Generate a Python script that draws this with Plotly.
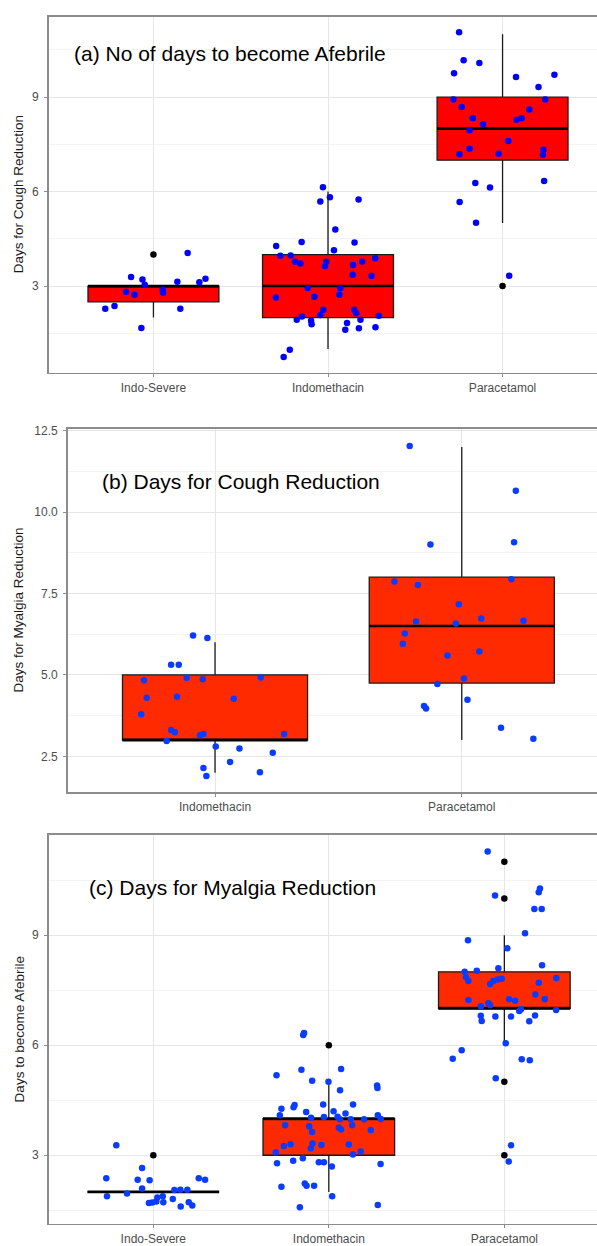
import plotly.graph_objects as go

W, H = 597, 1246
FONT = "Liberation Sans, Arial, Helvetica, sans-serif"

# ---------------- Panel (a): No of days to become Afebrile ----------------
A_cats = ["Indo-Severe", "Indomethacin", "Paracetamol"]
A_q1 = [2.5, 2, 7]
A_med = [3, 3, 8]
A_q3 = [3, 4, 9]
A_lo = [2, 1, 5]
A_hi = [3, 6, 11]
A_out_sev = [4]
A_out_ind = []
A_out_par = [3]
A_sev_dx = [-0.276, -0.223, -0.157, -0.128, -0.109, -0.063, -0.050, -0.069, 0.053, 0.055, 0.137, 0.154, 0.196, 0.263, 0.298]
A_sev_y = [2.28, 2.37, 2.82, 3.29, 2.72, 3.21, 3.04, 1.67, 2.89, 2.79, 3.14, 2.28, 4.05, 3.12, 3.23]
A_ind_dx = [-0.297, -0.273, -0.214, -0.189, -0.158, -0.299, -0.179, -0.219, -0.254, -0.029, -0.044, 0.011, 0.175, 0.042,
            -0.151, 0.152, 0.034, -0.010, -0.017, 0.143, 0.196, 0.270, 0.141, 0.249, -0.117, 0.070, 0.065, -0.078,
            -0.027, 0.150, 0.162, -0.044, -0.149, 0.186, 0.291, -0.097, -0.094, 0.109, 0.099, 0.177, 0.272]
A_ind_y = [4.27, 3.96, 3.97, 3.77, 3.72, 2.64, 1.93, 0.98, 0.75, 6.14, 5.69, 5.82, 5.75, 4.80,
           4.40, 4.38, 4.14, 3.77, 3.63, 3.67, 3.78, 3.88, 3.36, 3.33, 2.94, 2.93, 2.72, 2.66,
           2.25, 2.25, 2.14, 2.08, 2.03, 1.93, 2.06, 1.90, 1.79, 1.83, 1.61, 1.66, 1.69]
A_par_dx = [-0.249, -0.223, -0.133, -0.278, 0.077, 0.297, 0.206, -0.282, 0.244, -0.234, 0.153, -0.171, -0.112, 0.080,
            0.109, -0.189, 0.033, -0.189, -0.247, -0.023, 0.234, 0.231, 0.238, -0.156, -0.072, -0.246, -0.152, 0.038]
A_par_y = [11.06, 10.17, 10.09, 9.76, 9.64, 9.71, 9.32, 8.93, 8.93, 8.69, 8.61, 8.33, 8.14, 8.28,
           8.33, 7.95, 7.61, 7.36, 7.19, 7.20, 7.33, 7.17, 6.34, 6.27, 6.13, 5.67, 5.01, 3.33]

# ---------------- Panel (b): Days for Cough Reduction ----------------
B_cats = ["Indomethacin", "Paracetamol"]
B_q1 = [3, 4.75]
B_med = [3, 6.5]
B_q3 = [5, 8]
B_lo = [2, 3]
B_hi = [6, 12]
B_ind_dx = [-0.089, -0.031, -0.178, -0.147, -0.288, -0.115, -0.050, 0.185, -0.277, -0.154, 0.076, -0.299, -0.178,
            -0.163, -0.061, -0.047, 0.280, -0.196, 0.003, 0.099, 0.234, 0.061, -0.047, -0.035, 0.182]
B_ind_y = [6.21, 6.13, 5.31, 5.31, 4.84, 4.91, 4.87, 4.92, 4.30, 4.33, 4.27, 3.79, 3.31,
           3.24, 3.15, 3.19, 3.19, 2.97, 2.80, 2.74, 2.61, 2.33, 2.14, 1.90, 2.01]
B_par_dx = [-0.211, 0.219, -0.127, 0.212, -0.273, -0.178, 0.201, -0.012, -0.185, -0.024, 0.079, 0.250, -0.231,
            -0.239, -0.058, 0.071, 0.009, -0.099, 0.023, -0.153, -0.145, 0.159, 0.290]
B_par_y = [12.03, 10.65, 9.00, 9.07, 7.87, 7.76, 7.94, 7.17, 6.64, 6.58, 6.73, 6.66, 6.27,
           5.96, 5.60, 5.72, 4.89, 4.72, 4.24, 4.05, 3.97, 3.38, 3.04]

# ---------------- Panel (c): Days for Myalgia Reduction ----------------
C_cats = ["Indo-Severe", "Indomethacin", "Paracetamol"]
C_q1 = [2, 3, 7]
C_med = [2, 4, 7]
C_q3 = [2, 4, 8]
C_lo = [2, 2, 6]
C_hi = [2, 5, 9]
C_out_sev = [3]
C_out_ind = [6]
C_out_par = [11, 10, 5, 3]
C_sev_dx = [-0.211, -0.064, -0.268, -0.089, -0.021, 0.259, 0.295, -0.264, -0.150, -0.064, 0.023, 0.054, -0.006,
            -0.025, 0.017, 0.057, 0.111, 0.120, 0.154, 0.194, 0.202, 0.222, 0.156]
C_sev_y = [3.27, 2.65, 2.37, 2.33, 2.32, 2.37, 2.33, 1.88, 1.96, 2.09, 1.85, 1.88, 1.71,
           1.70, 1.74, 1.72, 1.81, 2.05, 2.06, 2.06, 1.72, 1.63, 1.60]
C_ind_dx = [-0.298, -0.156, -0.270, -0.195, -0.201, -0.279, -0.249, -0.218, -0.256, -0.302, -0.295, -0.203, -0.270,
            -0.165, -0.141, -0.146, 0.070, -0.095, -0.002, 0.064, 0.275, 0.277, -0.032, 0.138, -0.129, 0.027, 0.095,
            -0.101, -0.028, 0.050, 0.063, 0.125, 0.201, 0.279, 0.296, 0.133, -0.112, 0.057, 0.070, -0.095, 0.239,
            -0.093, -0.042, 0.114, -0.103, 0.137, 0.182, -0.148, -0.057, -0.028, 0.295, 0.017, -0.137, -0.127,
            -0.084, 0.019, 0.279]
C_ind_y = [5.18, 5.33, 4.27, 4.37, 4.31, 4.09, 3.82, 3.30, 3.25, 3.08, 2.78, 2.85, 2.14,
           1.58, 6.33, 6.28, 5.35, 5.03, 5.00, 4.77, 4.90, 4.83, 4.38, 4.38, 4.18, 4.20, 4.14,
           4.02, 4.04, 4.05, 3.98, 3.98, 3.98, 4.09, 3.99, 3.82, 3.79, 3.75, 3.70, 3.63, 3.69,
           3.32, 3.28, 3.29, 3.19, 3.02, 3.10, 2.92, 2.81, 2.81, 2.76, 2.69, 2.23, 2.17,
           2.17, 1.88, 1.64]
C_par_dx = [-0.095, -0.053, 0.203, 0.196, 0.171, 0.213, 0.118, -0.207, 0.017, 0.215, -0.034, -0.157, -0.226, -0.218,
            -0.205, -0.081, -0.063, -0.038, -0.015, 0.196, 0.296, -0.205, 0.027, 0.061, 0.177, 0.230, -0.134, -0.091,
            -0.081, 0.095, 0.085, 0.295, -0.134, -0.051, 0.038, 0.175, -0.129, 0.142, 0.008, -0.294, -0.243, 0.099,
            0.145, -0.049, 0.038, 0.025]
C_par_y = [11.28, 10.08, 10.27, 10.17, 9.71, 9.71, 9.05, 8.86, 8.64, 8.18, 8.10, 8.03, 8.00, 7.85,
           7.75, 7.67, 7.75, 7.79, 7.81, 7.70, 7.83, 7.23, 7.25, 7.21, 7.38, 7.25, 7.06, 7.14,
           7.09, 6.98, 6.93, 6.96, 6.80, 6.78, 6.78, 6.81, 6.66, 6.65, 6.05, 5.63, 5.86, 5.62,
           5.59, 5.10, 3.27, 2.83]

TITLES = ["(a) No of days to become Afebrile", "(b) Days for Cough Reduction", "(c) Days for Myalgia Reduction"]
YTITLES = ["Days for Cough Reduction", "Days for Myalgia Reduction", "Days to become Afebrile"]

BOX_W = 0.75
GRID = "#e6e6e6"
MINOR = "#f3f3f3"
AXC = "#8c8c8c"
TICKC = "#4d4d4d"

fig = go.Figure()


def add_panel(ax, q1, med, q3, lo, hi, fill, groups, outliers, pcolor):
    xa, ya = "x" + ax, "y" + ax
    for i in range(len(q1)):
        fig.add_trace(go.Box(x=[i], q1=[q1[i]], median=[med[i]], q3=[q3[i]],
                             lowerfence=[lo[i]], upperfence=[hi[i]], width=BOX_W,
                             fillcolor=fill, line=dict(color="#1a1a1a", width=1.3),
                             whiskerwidth=0, boxpoints=False, xaxis=xa, yaxis=ya,
                             showlegend=False, hoverinfo="skip"))
        fig.add_trace(go.Scatter(x=[i - BOX_W / 2, i + BOX_W / 2], y=[med[i], med[i]], mode="lines",
                                 line=dict(color="#000000", width=2.6), xaxis=xa, yaxis=ya,
                                 showlegend=False, hoverinfo="skip"))
    for i, outs in enumerate(outliers):
        if outs:
            fig.add_trace(go.Scatter(x=[i] * len(outs), y=outs, mode="markers",
                                     marker=dict(color="#000000", size=6.5), xaxis=xa, yaxis=ya,
                                     showlegend=False, hoverinfo="skip"))
    for i, (dx, yy) in enumerate(groups):
        fig.add_trace(go.Scatter(x=[i + d for d in dx], y=yy, mode="markers",
                                 marker=dict(color=pcolor, size=6.5), xaxis=xa, yaxis=ya,
                                 showlegend=False, hoverinfo="skip"))


add_panel("", A_q1, A_med, A_q3, A_lo, A_hi, "#ff0000",
          [(A_sev_dx, A_sev_y), (A_ind_dx, A_ind_y), (A_par_dx, A_par_y)],
          [A_out_sev, A_out_ind, A_out_par], "#0000ff")
add_panel("2", B_q1, B_med, B_q3, B_lo, B_hi, "#ff2a00",
          [(B_ind_dx, B_ind_y), (B_par_dx, B_par_y)], [[], []], "#0a3cff")
add_panel("3", C_q1, C_med, C_q3, C_lo, C_hi, "#ff2a00",
          [(C_sev_dx, C_sev_y), (C_ind_dx, C_ind_y), (C_par_dx, C_par_y)],
          [C_out_sev, C_out_ind, C_out_par], "#0a3cff")


def px_x(v):
    return v / W


def px_y(v):
    return 1 - v / H


def xaxis(dom, rng, cats, anchor):
    return dict(domain=dom, range=rng, tickmode="array", tickvals=list(range(len(cats))), ticktext=cats,
                showgrid=True, gridcolor=GRID, gridwidth=1, zeroline=False,
                showline=True, linecolor=AXC, linewidth=1.6, mirror=True,
                ticks="outside", ticklen=3, tickcolor=AXC, tickwidth=1,
                tickfont=dict(family=FONT, size=12, color=TICKC), anchor=anchor, fixedrange=True)


def yaxis(dom, rng, dtick, fmt, anchor):
    return dict(domain=dom, range=rng, tick0=0, dtick=dtick, tickformat=fmt,
                showgrid=True, gridcolor=GRID, gridwidth=1, zeroline=False,
                minor=dict(dtick=dtick / 2, tick0=0, showgrid=True, gridcolor=MINOR, gridwidth=1, ticks=""),
                showline=True, linecolor=AXC, linewidth=1.6, mirror=False,
                ticks="outside", ticklen=3, tickcolor=AXC, tickwidth=1, ticklabelstandoff=3,
                tickfont=dict(family=FONT, size=12, color=TICKC), anchor=anchor, fixedrange=True)


fig.update_layout(
    width=W, height=H, margin=dict(l=0, r=0, t=0, b=0, pad=0),
    paper_bgcolor="white", plot_bgcolor="white", showlegend=False, boxmode="overlay",
    xaxis=xaxis([px_x(48.7), 1], [-0.6, 2.541], A_cats, "y"),
    yaxis=yaxis([px_y(370), px_y(12)], [0.25, 11.55], 3, "d", "x"),
    xaxis2=xaxis([px_x(67.7), 1], [-0.597, 1.548], B_cats, "y2"),
    yaxis2=yaxis([px_y(792.3), px_y(426.7)], [1.4, 12.55], 2.5, ".1f", "x2"),
    xaxis3=xaxis([px_x(48.7), 1], [-0.596, 2.528], C_cats, "y3"),
    yaxis3=yaxis([px_y(1226.7), px_y(835)], [1.13, 11.74], 3, "d", "x3"),
)

title_pos = [(71.7, 49), (100, 480), (87.3, 888)]
ytitle_pos = [(18.5, 191), (19, 609.5), (19, 1031)]
for t, (x, y) in zip(TITLES, title_pos):
    fig.add_annotation(text=t, xref="paper", yref="paper", x=px_x(x), y=px_y(y), xanchor="left",
                       yanchor="middle", showarrow=False, font=dict(family=FONT, size=21, color="#000000"))
for t, (x, y) in zip(YTITLES, ytitle_pos):
    fig.add_annotation(text=t, xref="paper", yref="paper", x=px_x(x), y=px_y(y), xanchor="center",
                       yanchor="middle", textangle=-90, showarrow=False,
                       font=dict(family=FONT, size=13.5, color="#1a1a1a"))

fig.write_html("out.html", config={"displayModeBar": False, "staticPlot": True},
               post_script="document.body.style.margin='0px';document.body.style.overflow='hidden';")
